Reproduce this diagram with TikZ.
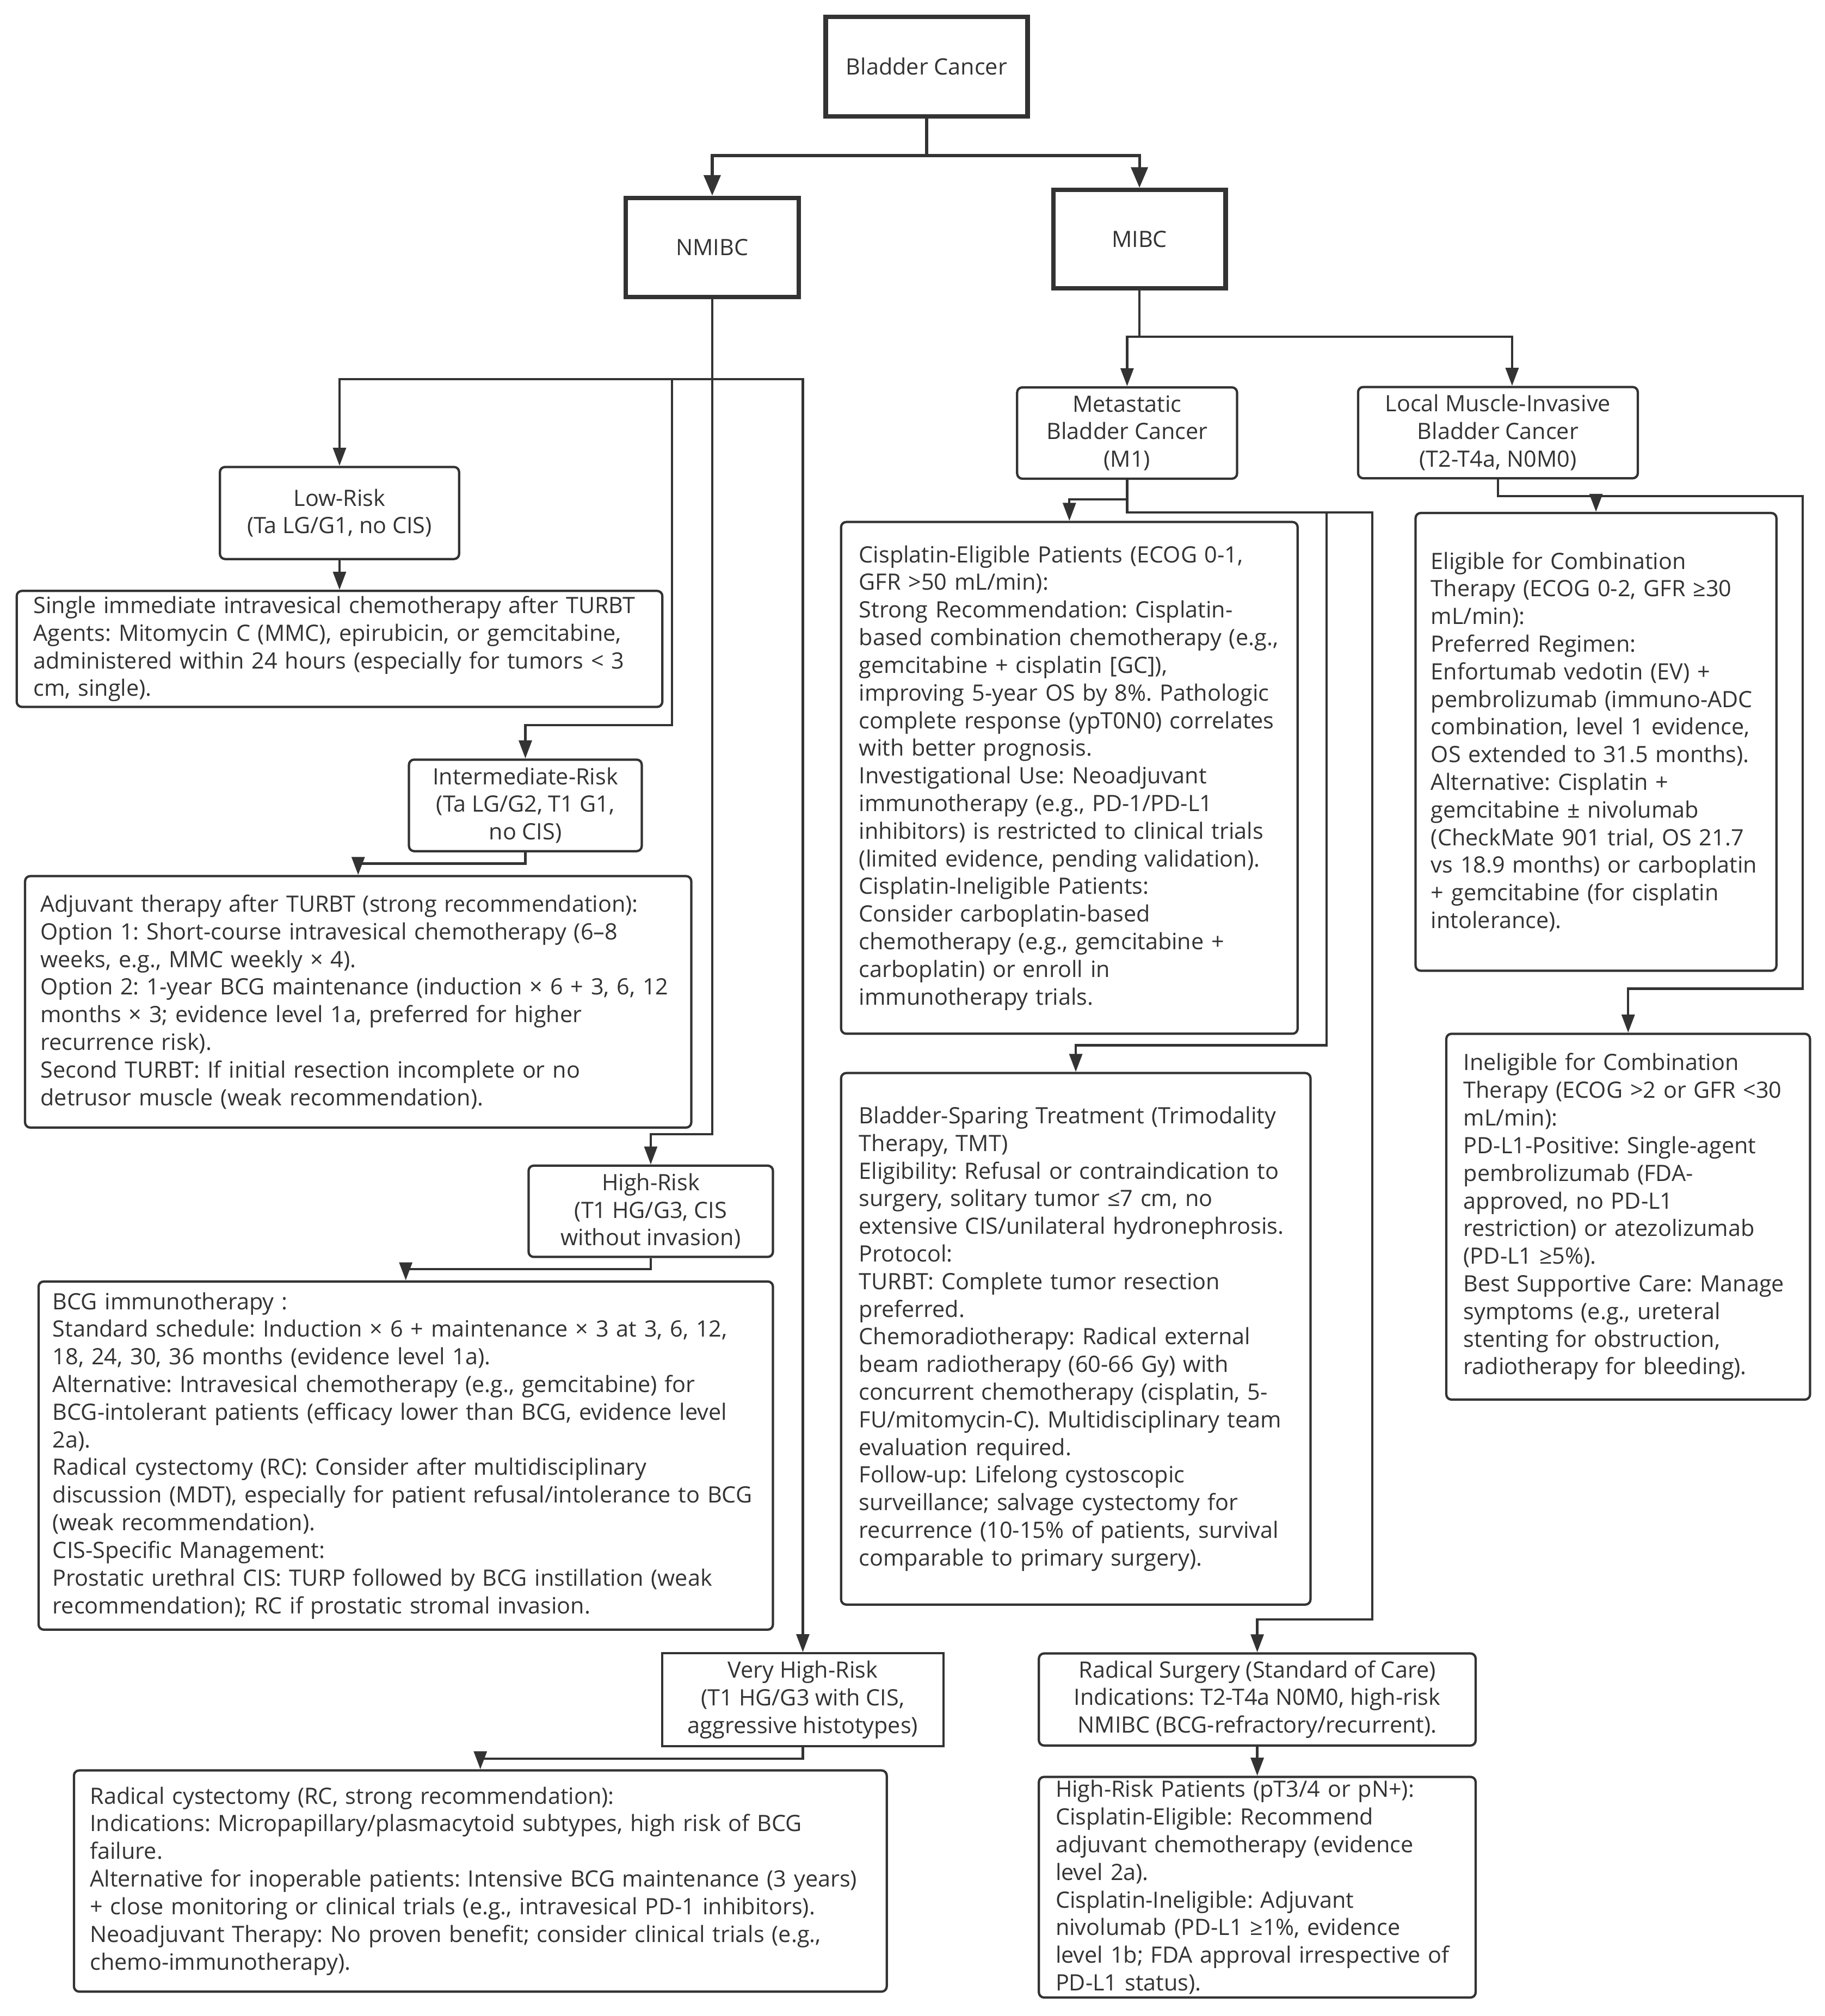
\documentclass[tikz,border=0pt]{standalone}
\usepackage{fontspec}
\setmainfont{Open Sans}
\frenchspacing
\usetikzlibrary{arrows.meta,calc}
\definecolor{linegray}{HTML}{333333}
\tikzset{
  rootbox/.style = {draw=linegray, line width=3.5pt, fill=white, text=linegray, align=center},
  riskbox/.style = {draw=linegray, line width=1.8pt, rounded corners=4pt, fill=white, text=linegray, align=center},
  notebox/.style = {draw=linegray, line width=1.8pt, rounded corners=4pt, fill=white, text=linegray, align=left, inner ysep=0pt},
  trunk/.style = {draw=linegray, line width=2.2pt, -{Triangle[length=16pt,width=13pt]}},
  flow/.style = {draw=linegray, line width=1.8pt, -{Triangle[length=14pt,width=10pt]}},
}

\begin{document}
\begin{tikzpicture}[
  x=1pt, y=-1pt,
  font=\fontsize{17.5}{21.5}\selectfont
]
\useasboundingbox (0,0) rectangle (1419,1568);

% Top level
\node[rootbox, minimum width=157pt, minimum height=77.4pt] (bc) at (720.5,51.7) {Bladder Cancer};
\node[rootbox, minimum width=134.4pt, minimum height=77pt] (nmibc) at (553.8,192.4) {NMIBC};
\node[rootbox, minimum width=134pt, minimum height=76.5pt] (mibc) at (886,186) {MIBC};

\draw[trunk] (bc.south) -- (720.5,121) -| (nmibc.north);
\draw[trunk] (bc.south) -- (720.5,121) -| (mibc.north);

% NMIBC branch
\node[riskbox, minimum width=186pt, minimum height=71.6pt] (low) at (264,399)
  {Low-Risk\\(Ta LG/G1, no CIS)};
\node[notebox, text width=476pt, inner xsep=13pt, minimum height=90.2pt] (single) at (264,504.7)
  {Single immediate intravesical chemotherapy after TURBT\\
   Agents: Mitomycin C (MMC), epirubicin, or gemcitabine,\\
   administered within 24 hours (especially for tumors < 3\\
   cm, single).};
\node[riskbox, minimum width=181pt, minimum height=71.2pt] (inter) at (408.5,626.4)
  {Intermediate-Risk\\(Ta LG/G2, T1 G1,\\no CIS)};
\node[notebox, text width=494pt, inner xsep=12pt, minimum height=195.6pt] (adj) at (278.5,779.2)
  {Adjuvant therapy after TURBT (strong recommendation):\\
   Option 1: Short-course intravesical chemotherapy (6–8\\
   weeks, e.g., MMC weekly × 4).\\
   Option 2: 1-year BCG maintenance (induction × 6 + 3, 6, 12\\
   months × 3; evidence level 1a, preferred for higher\\
   recurrence risk).\\
   Second TURBT: If initial resection incomplete or no\\
   detrusor muscle (weak recommendation).};
\node[riskbox, minimum width=190pt, minimum height=71pt] (high) at (506,942.1)
  {High-Risk\\(T1 HG/G3, CIS\\without invasion)};
\node[notebox, text width=549pt, inner xsep=11pt, minimum height=270.8pt] (bcg) at (315.5,1132.1)
  {BCG immunotherapy :\\
   Standard schedule: Induction × 6 + maintenance × 3 at 3, 6, 12,\\
   18, 24, 30, 36 months (evidence level 1a).\\
   Alternative: Intravesical chemotherapy (e.g., gemcitabine) for\\
   BCG-intolerant patients (efficacy lower than BCG, evidence level\\
   2a).\\
   Radical cystectomy (RC): Consider after multidisciplinary\\
   discussion (MDT), especially for patient refusal/intolerance to BCG\\
   (weak recommendation).\\
   CIS-Specific Management:\\
   Prostatic urethral CIS: TURP followed by BCG instillation (weak\\
   recommendation); RC if prostatic stromal invasion.};
\node[riskbox, sharp corners, minimum width=218.5pt, minimum height=72.2pt] (vhr) at (624.25,1322)
  {Very High-Risk\\(T1 HG/G3 with CIS,\\aggressive histotypes)};
\node[notebox, text width=607pt, inner xsep=12.5pt, minimum height=172pt] (rc) at (373.5,1463)
  {Radical cystectomy (RC, strong recommendation):\\
   Indications: Micropapillary/plasmacytoid subtypes, high risk of BCG\\
   failure.\\
   Alternative for inoperable patients: Intensive BCG maintenance (3 years)\\
   + close monitoring or clinical trials (e.g., intravesical PD-1 inhibitors).\\
   Neoadjuvant Therapy: No proven benefit; consider clinical trials (e.g.,\\
   chemo-immunotherapy).};

\coordinate (nsplit) at (553.8,295);
\draw[flow] (nmibc.south) -- (nsplit) -| (low.north);
\draw[flow] (nsplit) -| (522.5,564) -| (inter.north);
\draw[flow] (nsplit) -- (553.8,882) -| (high.north);
\draw[flow] (nsplit) -| (vhr.north);
\draw[flow] (low.south) -- (single.north);
\draw[flow] (inter.south) -- (408.5,671.7) -| (adj.north);
\draw[flow] (high.south) -- (506,987) -| (bcg.north);
\draw[flow] (vhr.south) -- (624.25,1368) -| (rc.north);

% MIBC branch
\node[riskbox, minimum width=171pt, minimum height=71pt] (met) at (876.4,336.8)
  {Metastatic\\Bladder Cancer\\(M1)};
\node[riskbox, minimum width=217.5pt, minimum height=71pt] (local) at (1164.75,336.5)
  {Local Muscle-Invasive\\Bladder Cancer\\(T2-T4a, N0M0)};
\node[notebox, text width=327pt, inner xsep=14pt, minimum height=398pt] (cis) at (831.5,605)
  {Cisplatin-Eligible Patients (ECOG 0-1,\\
   GFR >50 mL/min):\\
   Strong Recommendation: Cisplatin-\\
   based combination chemotherapy (e.g.,\\
   gemcitabine + cisplatin [GC]),\\
   improving 5-year OS by 8\%. Pathologic\\
   complete response (ypT0N0) correlates\\
   with better prognosis.\\
   Investigational Use: Neoadjuvant\\
   immunotherapy (e.g., PD-1/PD-L1\\
   inhibitors) is restricted to clinical trials\\
   (limited evidence, pending validation).\\
   Cisplatin-Ineligible Patients:\\
   Consider carboplatin-based\\
   chemotherapy (e.g., gemcitabine +\\
   carboplatin) or enroll in\\
   immunotherapy trials.};
\node[notebox, text width=256.6pt, inner xsep=12pt, minimum height=356pt] (elig) at (1241,577)
  {Eligible for Combination\\
   Therapy (ECOG 0-2, GFR ≥30\\
   mL/min):\\
   Preferred Regimen:\\
   Enfortumab vedotin (EV) +\\
   pembrolizumab (immuno-ADC\\
   combination, level 1 evidence,\\
   OS extended to 31.5 months).\\
   Alternative: Cisplatin +\\
   gemcitabine ± nivolumab\\
   (CheckMate 901 trial, OS 21.7\\
   vs 18.9 months) or carboplatin\\
   + gemcitabine (for cisplatin\\
   intolerance).};
\node[notebox, text width=256pt, inner xsep=13.4pt, minimum height=284.5pt] (inel) at (1266,946.3)
  {Ineligible for Combination\\
   Therapy (ECOG >2 or GFR <30\\
   mL/min):\\
   PD-L1-Positive: Single-agent\\
   pembrolizumab (FDA-\\
   approved, no PD-L1\\
   restriction) or atezolizumab\\
   (PD-L1 ≥5\%).\\
   Best Supportive Care: Manage\\
   symptoms (e.g., ureteral\\
   stenting for obstruction,\\
   radiotherapy for bleeding).};
\node[notebox, text width=337pt, inner xsep=14pt, minimum height=413.4pt] (bs) at (836.5,1041.3)
  {Bladder-Sparing Treatment (Trimodality\\
   Therapy, TMT)\\
   Eligibility: Refusal or contraindication to\\
   surgery, solitary tumor ≤7 cm, no\\
   extensive CIS/unilateral hydronephrosis.\\
   Protocol:\\
   TURBT: Complete tumor resection\\
   preferred.\\
   Chemoradiotherapy: Radical external\\
   beam radiotherapy (60-66 Gy) with\\
   concurrent chemotherapy (cisplatin, 5-\\
   FU/mitomycin-C). Multidisciplinary team\\
   evaluation required.\\
   Follow-up: Lifelong cystoscopic\\
   surveillance; salvage cystectomy for\\
   recurrence (10-15\% of patients, survival\\
   comparable to primary surgery).};
\node[riskbox, minimum width=339.6pt, minimum height=71.6pt] (rs) at (977.6,1321.8)
  {Radical Surgery (Standard of Care)\\
   Indications: T2-T4a N0M0, high-risk\\
   NMIBC (BCG-refractory/recurrent).};
\node[notebox, text width=313.6pt, inner xsep=13pt, minimum height=171.6pt] (hrp) at (977.6,1467.8)
  {High-Risk Patients (pT3/4 or pN+):\\
   Cisplatin-Eligible: Recommend\\
   adjuvant chemotherapy (evidence\\
   level 2a).\\
   Cisplatin-Ineligible: Adjuvant\\
   nivolumab (PD-L1 ≥1\%, evidence\\
   level 1b; FDA approval irrespective of\\
   PD-L1 status).};

\coordinate (msplit) at (886,262);
\draw[flow] (mibc.south) -- (msplit) -| (met.north);
\draw[flow] (msplit) -| ($(local.north)+(11,0)$);

\coordinate (mtap) at (876.4,398.6);
\draw[flow] (met.south) -- (876.4,388.5) -| (cis.north);
\draw[flow] (met.south) -- (mtap) -| (1031.5,813) -| (bs.north);
\draw[flow] (mtap) -| (1067,1259.6) -| (rs.north);
\draw[flow] (rs.south) -- (hrp.north);

\coordinate (ltap) at (1164.75,385.8);
\draw[flow] (local.south) -- (ltap) -| (elig.north);
\draw[flow] (ltap) -| (1401.6,769) -| (inel.north);

\end{tikzpicture}
\end{document}
